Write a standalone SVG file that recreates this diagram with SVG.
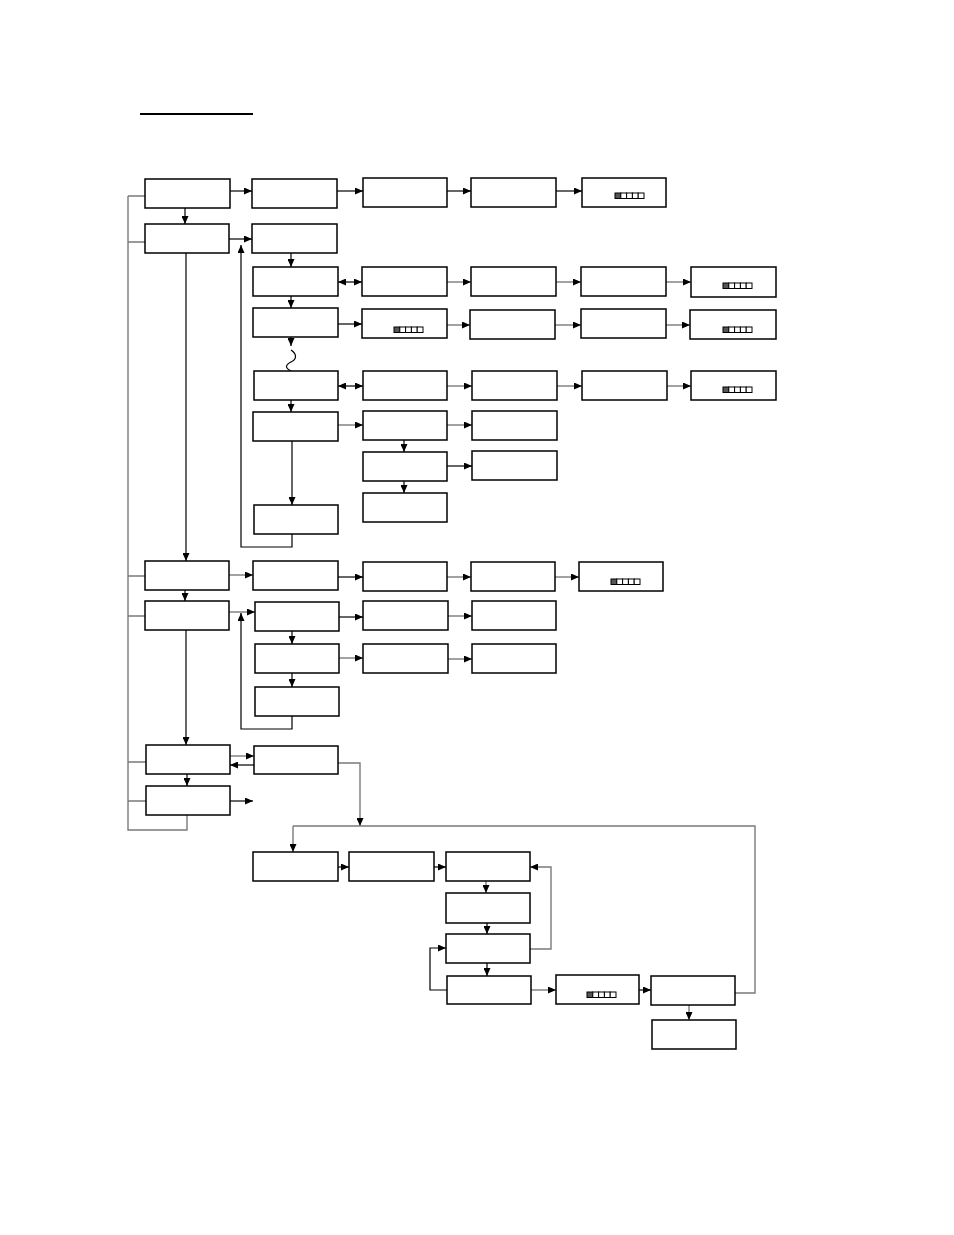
<svg xmlns="http://www.w3.org/2000/svg" width="954" height="1235" viewBox="0 0 954 1235">
<style>
.n rect.b{fill:#fff;stroke:#000;stroke-width:1.5}
.c path{fill:none;stroke:#000;stroke-width:1.2}
.c path.g{stroke:#7a7a7a;stroke-width:1.4}
.c path.a{marker-end:url(#ah)}
.c path.d{marker-end:url(#ah);marker-start:url(#ahs)}
.ic rect{fill:#fff;stroke:#000;stroke-width:1}
.ic rect.f{fill:#555}
</style>
<defs>
<marker id="ah" markerUnits="userSpaceOnUse" markerWidth="8" markerHeight="7" refX="8" refY="3.5" orient="auto"><path d="M0,0 L8,3.5 L0,7 z" fill="#000"/></marker>
<marker id="ahs" markerUnits="userSpaceOnUse" markerWidth="8" markerHeight="7" refX="8" refY="3.5" orient="auto-start-reverse"><path d="M0,0 L8,3.5 L0,7 z" fill="#000"/></marker>
<g id="icon" class="ic"><rect class="f" x="0" y="0" width="5.8" height="5.5"/><rect x="5.8" y="0" width="5.8" height="5.5"/><rect x="11.6" y="0" width="5.8" height="5.5"/><rect x="17.4" y="0" width="5.8" height="5.5"/><rect x="23.2" y="0" width="5.8" height="5.5"/></g>
</defs>
<rect width="954" height="1235" fill="#fff"/>
<line x1="140" y1="114" x2="253" y2="114" stroke="#000" stroke-width="2"/>

<g id="connectors" class="c">
<path class="g" d="M128,196 L128,830 L187,830 L187,815"/>
<path class="g" d="M128,196 L145,196 M128,242 L145,242 M128,576 L145,576 M128,616 L145,616 M128,762 L146,762 M128,801 L146,801"/>
<path class="a" d="M185,208 L185,224"/>
<path class="a" d="M186,253 L186,561"/>
<path class="a" d="M185,590 L185,601"/>
<path class="a" d="M186,630 L186,745"/>
<path class="a" d="M187,774 L187,786"/>
<path class="a" d="M230,191 L252,191"/>
<path class="a" d="M337,191 L363,191"/>
<path class="a" d="M447,191 L471,191"/>
<path class="a" d="M556,191 L582,191"/>
<path class="a" d="M229,239 L252,239"/>
<path class="a" d="M291,253 L291,267"/>
<path class="d" d="M338,282 L362,282"/>
<path class="a g" d="M447,282 L471,282"/>
<path class="a g" d="M556,282 L581,282"/>
<path class="a g" d="M666,282 L691,282"/>
<path class="a" d="M291,296 L291,308"/>
<path class="a" d="M338,324 L362,324"/>
<path class="a g" d="M447,325 L470,325"/>
<path class="a g" d="M555,325 L581,325"/>
<path class="a g" d="M666,325 L690,325"/>
<path class="a" d="M291,337 L291,346"/>
<path d="M291,350 C297,354 297,359 291,362 C285,365 285,368 291,371"/>
<path class="d" d="M338,386 L363,386"/>
<path class="a g" d="M447,386 L472,386"/>
<path class="a g" d="M557,386 L582,386"/>
<path class="a g" d="M667,386 L691,386"/>
<path class="a" d="M291,400 L291,412"/>
<path class="a g" d="M338,425 L363,425"/>
<path class="a g" d="M447,425 L472,425"/>
<path class="a" d="M404,440 L404,452"/>
<path class="a" d="M404,481 L404,493"/>
<path class="a" d="M447,466 L472,466"/>
<path class="a" d="M292,441 L292,505"/>
<path class="a" d="M292,534 L292,547 L241,547 L241,245"/>
<path class="a g" d="M229,575 L253,575"/>
<path class="a" d="M338,577 L363,577"/>
<path class="a g" d="M447,577 L471,577"/>
<path class="a g" d="M555,577 L579,577"/>
<path class="a g" d="M229,612 L255,612"/>
<path class="a" d="M339,617 L363,617"/>
<path class="a g" d="M448,616 L472,616"/>
<path class="a" d="M292,631 L292,644"/>
<path class="a" d="M292,673 L292,687"/>
<path class="a g" d="M339,658 L363,658"/>
<path class="a g" d="M448,659 L472,659"/>
<path class="a" d="M292,716 L292,729 L241,729 L241,613"/>
<path class="a g" d="M230,756 L254,756"/>
<path class="a" d="M254,765 L230,765"/>
<path class="a" d="M230,801 L253,801"/>
<path class="a g" d="M338,763 L360,763 L360,826"/>
<path class="g" d="M293,826 L755,826 L755,993 L735,993"/>
<path class="a g" d="M293,826 L293,852"/>
<path class="a" d="M338,867 L349,867"/>
<path class="a" d="M434,867 L446,867"/>
<path class="a g" d="M486,881 L486,893"/>
<path class="a" d="M487,923 L487,934"/>
<path class="a" d="M487,963 L487,976"/>
<path class="a g" d="M530,949 L551,949 L551,867 L530,867"/>
<path class="a" d="M447,990 L430,990 L430,948 L446,948"/>
<path class="a g" d="M531,990 L556,990"/>
<path class="a" d="M639,990 L651,990"/>
<path class="a g" d="M689,1005 L689,1020"/>
</g>

<g class="n">
<g id="A1"><rect class="b" x="145" y="179" width="85" height="29"/></g>
<g id="B1"><rect class="b" x="252" y="179" width="85" height="29"/></g>
<g id="C1"><rect class="b" x="363" y="178" width="84" height="29"/></g>
<g id="D1"><rect class="b" x="471" y="178" width="85" height="29"/></g>
<g id="E1"><rect class="b" x="582" y="178" width="84" height="29"/><use href="#icon" x="615" y="193"/></g>
<g id="A2"><rect class="b" x="145" y="224" width="84" height="29"/></g>
<g id="B2"><rect class="b" x="252" y="224" width="85" height="29"/></g>
<g id="B3"><rect class="b" x="253" y="267" width="85" height="29"/></g>
<g id="C3"><rect class="b" x="362" y="267" width="85" height="29"/></g>
<g id="D3"><rect class="b" x="471" y="267" width="85" height="29"/></g>
<g id="E3"><rect class="b" x="581" y="267" width="85" height="29"/></g>
<g id="F3"><rect class="b" x="691" y="267" width="85" height="30"/><use href="#icon" x="723" y="283"/></g>
<g id="B4"><rect class="b" x="253" y="308" width="85" height="29"/></g>
<g id="C4"><rect class="b" x="362" y="309" width="85" height="29"/><use href="#icon" x="394" y="327"/></g>
<g id="D4"><rect class="b" x="470" y="310" width="85" height="29"/></g>
<g id="E4"><rect class="b" x="581" y="309" width="85" height="29"/></g>
<g id="F4"><rect class="b" x="690" y="310" width="86" height="29"/><use href="#icon" x="723" y="327"/></g>
<g id="B5"><rect class="b" x="254" y="371" width="84" height="29"/></g>
<g id="C5"><rect class="b" x="363" y="371" width="84" height="29"/></g>
<g id="D5"><rect class="b" x="472" y="371" width="85" height="29"/></g>
<g id="E5"><rect class="b" x="582" y="371" width="85" height="29"/></g>
<g id="F5"><rect class="b" x="691" y="371" width="85" height="29"/><use href="#icon" x="723" y="387"/></g>
<g id="B6"><rect class="b" x="253" y="412" width="85" height="29"/></g>
<g id="C6"><rect class="b" x="363" y="411" width="84" height="29"/></g>
<g id="D6"><rect class="b" x="472" y="411" width="85" height="29"/></g>
<g id="C7"><rect class="b" x="363" y="452" width="84" height="29"/></g>
<g id="D7"><rect class="b" x="472" y="451" width="85" height="29"/></g>
<g id="C8"><rect class="b" x="363" y="493" width="84" height="29"/></g>
<g id="B7"><rect class="b" x="254" y="505" width="84" height="29"/></g>
<g id="A3"><rect class="b" x="145" y="561" width="84" height="29"/></g>
<g id="B8"><rect class="b" x="253" y="561" width="85" height="29"/></g>
<g id="C9"><rect class="b" x="363" y="562" width="84" height="29"/></g>
<g id="D9"><rect class="b" x="471" y="562" width="84" height="29"/></g>
<g id="E9"><rect class="b" x="579" y="562" width="84" height="29"/><use href="#icon" x="611" y="579"/></g>
<g id="A4"><rect class="b" x="145" y="601" width="84" height="29"/></g>
<g id="B9"><rect class="b" x="255" y="602" width="84" height="29"/></g>
<g id="C10"><rect class="b" x="363" y="601" width="85" height="29"/></g>
<g id="D10"><rect class="b" x="472" y="601" width="84" height="29"/></g>
<g id="B10"><rect class="b" x="255" y="644" width="84" height="29"/></g>
<g id="C11"><rect class="b" x="363" y="644" width="85" height="29"/></g>
<g id="D11"><rect class="b" x="472" y="644" width="84" height="29"/></g>
<g id="B11"><rect class="b" x="255" y="687" width="84" height="29"/></g>
<g id="A5"><rect class="b" x="146" y="745" width="84" height="29"/></g>
<g id="B12"><rect class="b" x="254" y="746" width="84" height="28"/></g>
<g id="A6"><rect class="b" x="146" y="786" width="84" height="29"/></g>
<g id="G1"><rect class="b" x="253" y="852" width="85" height="29"/></g>
<g id="G2"><rect class="b" x="349" y="852" width="85" height="29"/></g>
<g id="G3"><rect class="b" x="446" y="852" width="84" height="29"/></g>
<g id="H1"><rect class="b" x="446" y="893" width="84" height="30"/></g>
<g id="H2"><rect class="b" x="446" y="934" width="84" height="29"/></g>
<g id="H3"><rect class="b" x="447" y="976" width="84" height="28"/></g>
<g id="I1"><rect class="b" x="556" y="975" width="83" height="29"/><use href="#icon" x="587" y="992"/></g>
<g id="J1"><rect class="b" x="651" y="976" width="84" height="29"/></g>
<g id="J2"><rect class="b" x="652" y="1020" width="84" height="29"/></g>
</g>
</svg>
